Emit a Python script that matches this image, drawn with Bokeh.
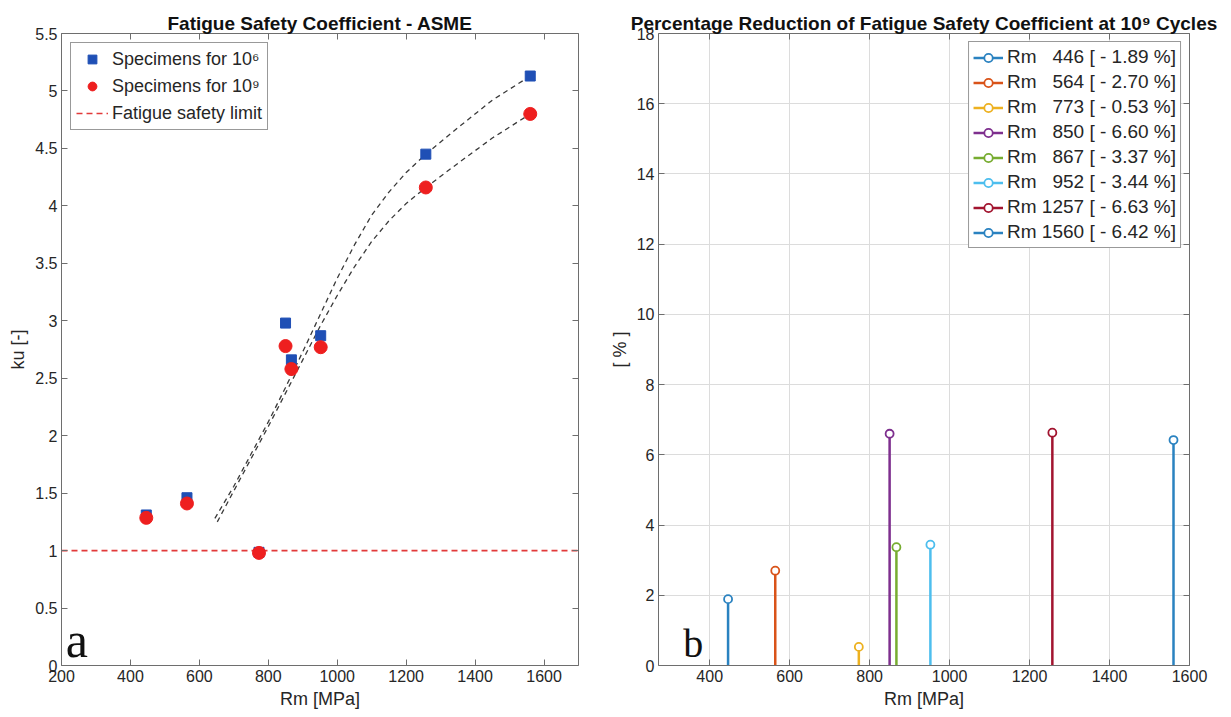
from bokeh.plotting import figure
from bokeh.models import FixedTicker, LinearAxis, Legend, LegendItem
from bokeh.layouts import row
from bokeh.embed import file_html
from bokeh.resources import INLINE
from bokeh.core.properties import value

# ---------------- data ----------------
rm = [446, 564, 773, 850, 867, 952, 1257, 1560]
ku_1e6 = [1.31, 1.46, 0.985, 2.98, 2.66, 2.87, 4.45, 5.13]
ku_1e9 = [1.285, 1.41, 0.98, 2.78, 2.58, 2.77, 4.16, 4.80]
safety_limit = 1.0

fit_x_1e6 = [645, 700, 750, 800, 850, 900, 950, 1000, 1050, 1100, 1150, 1200, 1257, 1350, 1450, 1560]
fit_y_1e6 = [1.28, 1.56, 1.84, 2.12, 2.42, 2.73, 3.05, 3.37, 3.66, 3.92, 4.12, 4.29, 4.45, 4.68, 4.92, 5.13]
fit_x_1e9 = [652, 700, 750, 800, 850, 900, 950, 1000, 1050, 1100, 1150, 1200, 1257, 1350, 1450, 1560]
fit_y_1e9 = [1.25, 1.52, 1.80, 2.08, 2.37, 2.66, 2.95, 3.22, 3.47, 3.69, 3.87, 4.02, 4.16, 4.37, 4.59, 4.80]

reduction_pct = [1.89, 2.70, 0.53, 6.60, 3.37, 3.44, 6.63, 6.42]
stem_colors = ["#2a82c0", "#D95319", "#EDB120", "#7E2F8E", "#77AC30", "#4DBEEE", "#A2142F", "#2a82c0"]

left_xticks = [200, 400, 600, 800, 1000, 1200, 1400, 1600]
left_yticks = [0, 0.5, 1, 1.5, 2, 2.5, 3, 3.5, 4, 4.5, 5, 5.5]
left_ylabels = ["0", "0.5", "1", "1.5", "2", "2.5", "3", "3.5", "4", "4.5", "5", "5.5"]
right_xticks = [400, 600, 800, 1000, 1200, 1400, 1600]
right_yticks = [0, 2, 4, 6, 8, 10, 12, 14, 16, 18]

FONT = "Liberation Sans"
TXT = "#262626"
AX = "#6e6e6e"


def style_axes(p, xticks, yticks, ylabels=None):
    for ax in p.xaxis + p.yaxis:
        ax.axis_line_color = AX
        ax.major_tick_line_color = AX
        ax.major_tick_in = 6
        ax.major_tick_out = 0
        ax.minor_tick_in = 0
        ax.minor_tick_out = 0
        ax.major_label_text_font = FONT
        ax.major_label_text_font_size = "16px"
        ax.major_label_text_color = TXT
        ax.axis_label_text_font = FONT
        ax.axis_label_text_font_size = "18px"
        ax.axis_label_text_font_style = "normal"
        ax.axis_label_text_color = TXT
        ax.major_label_standoff = 4
        ax.axis_label_standoff = 4
    p.xaxis.ticker = FixedTicker(ticks=xticks)
    p.yaxis.ticker = FixedTicker(ticks=yticks)
    p.xaxis.major_label_overrides = {t: str(t) for t in xticks}
    p.yaxis.major_label_overrides = {t: (ylabels[i] if ylabels else str(t)) for i, t in enumerate(yticks)}
    top = LinearAxis(ticker=FixedTicker(ticks=xticks), major_label_text_font_size="0px",
                     axis_line_color=AX, major_tick_line_color=AX, major_tick_in=6, major_tick_out=0,
                     minor_tick_in=0, minor_tick_out=0, major_label_standoff=0)
    rgt = LinearAxis(ticker=FixedTicker(ticks=yticks), major_label_text_font_size="0px",
                     axis_line_color=AX, major_tick_line_color=AX, major_tick_in=6, major_tick_out=0,
                     minor_tick_in=0, minor_tick_out=0, major_label_standoff=0)
    p.add_layout(top, "above")
    p.add_layout(rgt, "right")
    p.title.text_font = FONT
    p.title.text_font_size = "19px"
    p.title.text_font_style = "bold"
    p.title.text_color = "#111111"
    p.title.align = "center"
    p.title.standoff = 0
    p.outline_line_color = None


# ---------------- left figure ----------------
p1 = figure(frame_width=517, frame_height=632, x_range=(200, 1700), y_range=(0, 5.5),
            output_backend="svg", toolbar_location=None,
            title="Fatigue Safety Coefficient - ASME",
            x_axis_label="Rm [MPa]", y_axis_label="ku [-]",
            min_border_left=61, min_border_right=28, min_border_top=33, min_border_bottom=10)
p1.xgrid.visible = False
p1.ygrid.visible = False
style_axes(p1, left_xticks, left_yticks, left_ylabels)

r_fit1 = p1.line(fit_x_1e6, fit_y_1e6, line_color="#3a3a3a", line_dash="5 4", line_width=1.3)
r_fit2 = p1.line(fit_x_1e9, fit_y_1e9, line_color="#3a3a3a", line_dash="5 4", line_width=1.3)
r_lim = p1.line([200, 1700], [safety_limit, safety_limit], line_color="#e23a3a", line_dash="6 4", line_width=1.6)
r_sq = p1.scatter(rm, ku_1e6, marker="square", size=10, fill_color="#1f4fb5", line_color="#1f4fb5")
r_ci = p1.scatter(rm, ku_1e9, marker="circle", size=13, fill_color="#ee1f1f", line_color="#ee1f1f")

leg1 = Legend(items=[LegendItem(label="Specimens for 10\u2076", renderers=[r_sq]),
                     LegendItem(label="Specimens for 10\u2079", renderers=[r_ci]),
                     LegendItem(label="Fatigue safety limit", renderers=[r_lim])],
              location="top_left", margin=9, padding=5, spacing=5,
              label_text_font=FONT, label_text_font_size="18px", label_text_color=TXT,
              glyph_width=32, glyph_height=22, label_height=22, label_standoff=4,
              border_line_color="#333333", border_line_width=1, background_fill_alpha=1)
p1.add_layout(leg1)
p1.text(x=[212], y=[0.226], text=["a"], text_font=value("Liberation Serif"),
        text_font_size="50px", text_color="#111111", text_baseline="middle")

# ---------------- right figure ----------------
p2 = figure(frame_width=531, frame_height=632, x_range=(272, 1600), y_range=(0, 18),
            output_backend="svg", toolbar_location=None,
            title="Percentage Reduction of Fatigue Safety Coefficient at 10\u2079 Cycles",
            x_axis_label="Rm [MPa]", y_axis_label="[ % ]",
            min_border_left=46, min_border_right=35, min_border_top=33, min_border_bottom=10)
style_axes(p2, right_xticks, right_yticks)
p2.xgrid.ticker = FixedTicker(ticks=right_xticks)
p2.ygrid.ticker = FixedTicker(ticks=right_yticks)
p2.xgrid.grid_line_color = "#dcdcdc"
p2.ygrid.grid_line_color = "#dcdcdc"

items = []
for xv, yv, c in zip(rm, reduction_pct, stem_colors):
    rs = p2.segment(x0=[xv], y0=[0], x1=[xv], y1=[yv], line_color=c, line_width=2.5)
    rc = p2.scatter([xv], [yv], marker="circle", size=8, fill_color="white", line_color=c, line_width=1.8)
    num = str(xv) if xv >= 1000 else "\u00a0\u00a0" + str(xv)
    items.append(LegendItem(label="Rm\u00a0" + num + "\u00a0[\u00a0-\u00a0%.2f\u00a0%%]" % yv, renderers=[rs, rc]))

leg2 = Legend(items=items, location="top_right", margin=8, padding=4, spacing=3,
              label_text_font=FONT, label_text_font_size="19px", label_text_color=TXT,
              glyph_width=30, glyph_height=21, label_height=21, label_standoff=4,
              border_line_color="#333333", border_line_width=1, background_fill_alpha=1)
p2.add_layout(leg2)
p2.text(x=[334], y=[0.64], text=["b"], text_font=value("Liberation Serif"),
        text_font_size="40px", text_color="#111111", text_baseline="middle")

layout = row(p1, p2)
open("out.html", "w").write(file_html(layout, INLINE))
